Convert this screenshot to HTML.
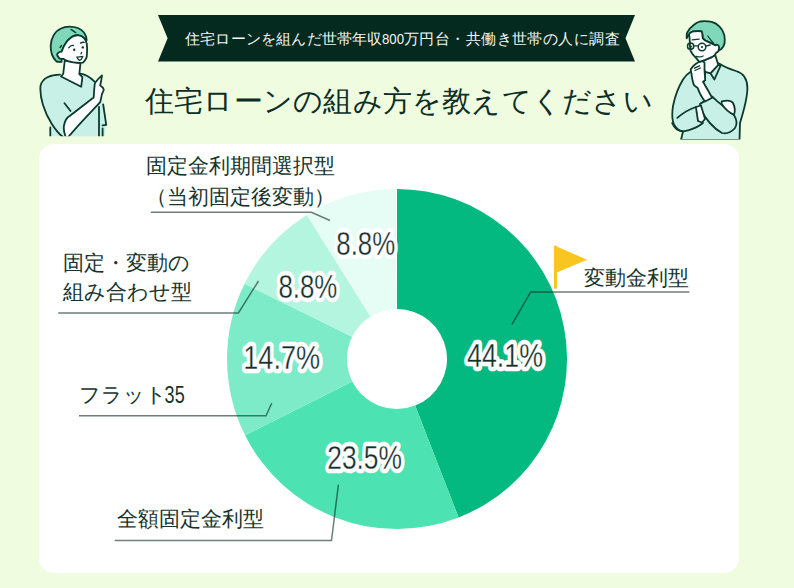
<!DOCTYPE html>
<html lang="ja">
<head>
<meta charset="utf-8">
<style>
html,body{margin:0;padding:0;}
body{width:794px;height:588px;overflow:hidden;background:#f0fce0;font-family:"Liberation Sans",sans-serif;}
svg{position:absolute;left:0;top:0;}
</style>
</head>
<body>
<svg width="794" height="588" viewBox="0 0 794 588" font-family="'Liberation Sans',sans-serif">
<!-- card -->
<rect x="39" y="144" width="700" height="429" rx="15" fill="#ffffff"/>

<!-- banner -->
<polygon points="158,15 635,15 625.5,38.3 635,61.6 158,61.6 167.6,38.3" fill="#04291f"/>
<g font-size="15.2" fill="#f4f7f5">
<text x="185" y="44.4" letter-spacing="0.2">住宅ローンを組んだ世帯年収</text>
<text transform="translate(382 44.4) scale(0.87 1)">800</text>
<text x="404" y="44.4" letter-spacing="0.43">万円台・共働き世帯の人に調査</text>
</g>

<!-- title -->
<text x="145" y="111.3" font-size="29" letter-spacing="0.22" fill="#0d2e25">住宅ローンの組み方を教えてください</text>

<!-- donut -->
<path fill="#03b97f" d="M397.00 189.00A170 170 0 0 1 458.59 517.45L415.11 405.60A50 50 0 0 0 397.00 309.00Z"/>
<path fill="#4de2b2" d="M458.59 517.45A170 170 0 0 1 245.05 435.23L352.31 381.42A50 50 0 0 0 415.11 405.60Z"/>
<path fill="#7debc8" d="M245.05 435.23A170 170 0 0 1 244.57 283.73L352.17 336.86A50 50 0 0 0 352.31 381.42Z"/>
<path fill="#b4f5e0" d="M244.57 283.73A170 170 0 0 1 306.81 214.89L370.47 316.62A50 50 0 0 0 352.17 336.86Z"/>
<path fill="#e5fdf4" d="M306.81 214.89A170 170 0 0 1 395.93 189.00L396.69 309.00A50 50 0 0 0 370.47 316.62Z"/>

<!-- leader lines -->
<g fill="none" stroke="#0e2a22" stroke-opacity="0.6" stroke-width="1.5" stroke-linejoin="miter">
<path d="M150.8 212.3H311.4L330 220.5"/>
<path d="M58.3 312.9H238.4L258.5 281"/>
<path d="M79 415.7H266L271.7 403.2"/>
<path d="M114.7 540.4H331.5L338.4 484.7"/>
<path d="M689.4 292H530.7L512 324.4"/>
</g>

<!-- flag -->
<path d="M555.5 246L587 259.7L555.5 273Z" fill="#f9c620"/>
<line x1="555.5" y1="247" x2="555.5" y2="287.5" stroke="#f9c620" stroke-width="3.2" stroke-linecap="round"/>

<!-- category labels -->
<g font-size="21" fill="#15342c">
<text x="146" y="173.0">固定金利期間選択型</text>
<text x="240" y="203.5" text-anchor="middle">（当初固定後変動）</text>
<text x="62.7" y="270.3">固定・変動の</text>
<text x="62.7" y="298.5">組み合わせ型</text>
<text x="79.3" y="402.1">フラット</text>
<text font-size="23" transform="translate(164.6 402.9) scale(0.785 1)">35</text>
<text x="117.3" y="525.6">全額固定金利型</text>
<text x="584.4" y="284.7">変動金利型</text>
</g>

<!-- percentages -->
<g fill="#14302a" stroke="#ffffff" stroke-width="8.5" stroke-linejoin="round" paint-order="stroke" text-anchor="middle">
<text font-size="33.5" transform="translate(505 367.1) scale(0.8 1)">44.1%</text>
<text font-size="33.3" transform="translate(281.7 368.5) scale(0.815 1)">14.7%</text>
<text font-size="33.8" transform="translate(364.6 469.3) scale(0.78 1)">23.5%</text>
<text font-size="33.5" transform="translate(365.7 255.4) scale(0.77 1)">8.8%</text>
<text font-size="33.5" transform="translate(307.9 298.4) scale(0.77 1)">8.8%</text>
</g>
<g fill="none" stroke="#ffffff" stroke-width="0.35" text-anchor="middle">
<text font-size="33.5" transform="translate(505 367.1) scale(0.8 1)">44.1%</text>
<text font-size="33.3" transform="translate(281.7 368.5) scale(0.815 1)">14.7%</text>
<text font-size="33.8" transform="translate(364.6 469.3) scale(0.78 1)">23.5%</text>
<text font-size="33.5" transform="translate(365.7 255.4) scale(0.77 1)">8.8%</text>
<text font-size="33.5" transform="translate(307.9 298.4) scale(0.77 1)">8.8%</text>
</g>

<!-- left person -->
<clipPath id="cl"><rect x="0" y="0" width="200" height="136.3"/></clipPath>
<g clip-path="url(#cl)" stroke="#0b3a2e" stroke-width="1.8" stroke-linecap="round" stroke-linejoin="round">
  <path fill="#c9f0e6" stroke="none" d="M60 74.6C51 74.5 42 78 40.5 86C39.5 97 44 112 50.3 124V140H104L106.2 124.8L103.2 104.5C101 95 98 86 94.3 81.3C90 77 85 74.5 80.6 73.6Z"/>
  <path fill="none" d="M60 74.6C51 74.5 42 78 40.5 86C39.5 97 44 112 51.7 123.7C55 129 59 134 63 137M50.3 127.5V140M80.6 73.6C85 74.5 90 77 94.3 81.3M99 106.9V140M103.2 104.5L106.2 124.8L102.5 125.4M102.6 128.5V140M64.5 103.3L70.5 111"/>
  <path fill="#ffffff" d="M61 76.5L81.2 86.7L82.4 77.1L79.3 74L80.5 63L64.8 60.5L63.2 74Z"/>
  <path fill="#ffffff" d="M69.9 115.8C78 110 86 103 93.7 97.4C94 92 94.3 87 94.9 83.1C97 80 100 77 102 75.4C101.5 79 101 82 100.2 85.5C102 86.5 103.5 88 103.8 89.6C103.5 91 102.8 92.5 102 93.8C101.5 96.5 101 99 100.2 102.1C90 113 79 124 68.7 136.5L66 138C64 133 63.5 129 63.9 126C65 120 67 117 69.9 115.8Z"/>
  <path fill="#7fd8b9" d="M61.6 61.9C58 62 56.5 61.5 56.2 61.1C52 57 50.5 51 50.7 45.5C51 38 55 31 61 28.5C64 27 67 26.7 69.5 26.7C76 26.7 81 29 84 32.5C85.5 34.5 86.5 37 86.7 40L85.9 40.8C85 39.5 84.5 38.8 84.3 38.4C82 36 80 35.3 78.9 35.3C76 35 73.5 35.8 71.8 36.9C69 38.8 67.5 40.5 66.3 42.3C64 45.5 62.5 49 61.6 51.7Z"/>
  <path fill="#ffffff" d="M61.6 51.7C62.5 49 64 45.5 66.3 42.3C67.5 40.5 69 38.8 71.8 36.9C73.5 35.8 76 35 78.9 35.3C80 35.3 82 36 84.3 38.4C84.5 38.8 85 39.5 85.9 40.8C86.8 43 87.1 45 87.1 47.8C87.2 51 87 54 86.7 57.2C85.8 59.5 84.5 61.5 82.8 62.7C78 63 72 62.5 67.9 61.1C66 60.5 64.5 59.8 63.2 58.8C61 59 58.8 58.5 58.5 57.2C57 55.5 57.2 53.8 57.7 53.3C58.8 52 60.5 51.7 61.6 51.7Z"/>
  <path fill="none" stroke-width="1.3" d="M71 29.4L75.7 32.6M60 47.5L61.5 45.5"/>
  <path fill="none" stroke-width="1.3" d="M68.7 47.8C70 46 71.8 45.3 73.4 45.5M80.4 43.1C81.5 42.4 83 42.2 84.3 42.3M81.6 52.5L81 53.8"/>
  <path fill="none" stroke-width="1.3" d="M76.9 57.2C79 57.2 81 56.9 82.8 56.4C82 58.5 81 60 79.6 60.3C78.3 59.8 77.5 58.5 76.9 57.2Z"/>
</g>
<circle cx="74.2" cy="49.8" r="1.2" fill="#0b3a2e"/>
<circle cx="82.8" cy="47.4" r="1.2" fill="#0b3a2e"/>

<!-- right person -->
<clipPath id="cr"><rect x="600" y="0" width="194" height="139.6"/></clipPath>
<g clip-path="url(#cr)" stroke="#0b3a2e" stroke-width="1.8" stroke-linecap="round" stroke-linejoin="round">
  <path fill="#c9f0e6" d="M691 71.5C687 74 684.5 77 683 79.5C679 86 675 96 673 106C671.8 114 672 122 675 126C677 129 680 131 683 131.5L681 140H739.5L740 123C744 110 747.5 98 747.4 88C747.3 78 743 73 736 71C730 69 724 67 720 64L716 62L699 74Z"/>
  <path fill="#ffffff" d="M699.2 61.8L705.2 71.8L710.6 73.4L718.3 65L715.2 55L711.7 57.1Z"/>
  <path fill="#c9f0e6" d="M710.6 73.4L714.4 79.5L720.6 65.7L718.3 65Z"/>
  <path fill="none" d="M705.2 73.4L703.7 81.8"/>
  <path fill="#c9f0e6" d="M700 104C703 102 708 99 712 96.5C716 100 719 103 722 105L734 115C737 120 737 125 735 128C731 132.5 726 134 722 133C713 128 705 118 700 108Z"/>
  <path fill="#ffffff" d="M721.7 101.4C727 100 731 100 733 103C735 107 735 112 734 114.8C730 113 725 109 721.7 104Z"/>
  <path fill="#ffffff" d="M695.9 107L701 105.5L705 119L702 122.5L698 121Z"/>
  <path fill="none" d="M677.3 117.9C684 112 690 109 695.9 107M672.1 123C675 130 679 131.5 683.5 131.3C692 130 698 127 703 123"/>
  <path fill="#ffffff" d="M690.7 69.5C692 67 693.5 65.5 695.3 64.2C697.5 62.5 700 61.3 702.2 61.1C703.3 61.3 704 61.8 704.5 62.7C704.6 65 704.5 68 704.5 70.3C704.8 74 705 77 705.2 80.2L703 81.8C706 87 709 92 712.1 97.8L705 101.5C702 98 699.5 93 697.6 87.9C695.5 86.5 694.5 86 693.8 84.8C693 82.5 692.5 80.5 692.2 78.7C691.8 76.5 691.6 75 691.5 73.4C691 72 690.8 70.5 690.7 69.5Z"/>
  <path fill="none" stroke-width="1.3" d="M694.5 68.2L699.5 65.8M695 70.5L700.5 68"/>
  <path fill="#7fd8b9" d="M686.7 38.3C686.5 35 686.8 33 687.5 32.1C689 29 691 27 693.7 25C696 23 698 22 700 21.5C704 21 708 21.2 711.7 21.9C715 22.8 717.5 24.5 719.6 26.6C722 29 723.5 32 724.3 35.2C724.8 38 724.9 40.5 724.6 43C724 46 722.8 48 721.1 49.3L718.8 50.5L715.6 45.4C712 43.5 708.5 42 705.5 40.7L702.7 38.3C702.7 35.5 702.4 33 701.6 31.3C698 31 695 31 692.2 31.7C690.5 32.5 689.5 33.5 689 34.4Z"/>
  <path fill="#ffffff" d="M689 34.4C689.5 33.5 690.5 32.5 692.2 31.7C695 31 698 31 701.6 31.3C702.4 33 702.7 35.5 702.7 38.3L705.5 40.7C708.5 42 712 43.5 715.6 45.4L716.4 44.6C718.5 44.5 719.5 46.5 719 49C718.5 51.5 717.5 52.5 716.4 52.4L714.9 54.8C714 56 713 56.8 711.7 57.1C708 59 703 61 699.2 61.8C698 60.5 697 59 696 57.9C693 55 691.5 53 690.6 50.9C690 47 689.8 44 689.8 41.5C689.7 38.5 689.5 36 689 34.4Z"/>
  <path fill="none" stroke-width="1.3" d="M707.8 36C709.5 38.5 711.5 41 713.3 43"/>
  <circle cx="690.6" cy="46.2" r="3.1" fill="none" stroke-width="1.5"/>
  <circle cx="702" cy="47" r="3.8" fill="none" stroke-width="1.5"/>
  <path fill="none" stroke-width="1.3" d="M693.7 45.8H698.2M705.8 46.2L710.2 45M692.2 39.9L699.2 39.1M696.1 56.3C698.5 57.2 701 57 703.1 56"/>
</g>
<circle cx="691" cy="46.5" r="1" fill="#0b3a2e"/>
<circle cx="702" cy="47" r="1.1" fill="#0b3a2e"/>
</svg>
</body>
</html>
